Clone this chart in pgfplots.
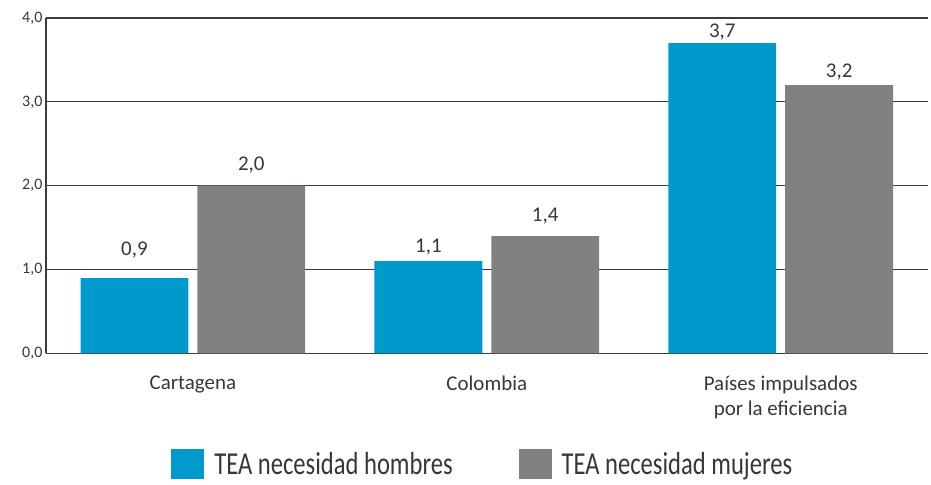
\documentclass[border=0pt]{standalone}
\usepackage{pgfplots}
\pgfplotsset{compat=1.18}
\usepackage{fontspec}
\setmainfont{Carlito}
\definecolor{cblue}{RGB}{0,153,204}
\definecolor{cgray}{RGB}{128,129,131}
\definecolor{ctext}{RGB}{55,55,55}
\definecolor{cline}{RGB}{60,60,60}
\begin{document}
\begin{tikzpicture}
\begin{axis}[
  scale only axis,
  width=883pt, height=336pt,
  anchor=south west, at={(0,0)},
  xmin=-0.5, xmax=2.5,
  ymin=0, ymax=4,
  axis x line*=bottom, axis y line*=left,
  axis line style={cline, line width=1.2pt, -},
  ymajorgrids,
  grid style={cline, line width=1.2pt},
  ytick={0,1,2,3,4},
  ytick style={draw=none},
  yticklabel style={font=\fontsize{16}{16}\selectfont, text=ctext, /pgf/number format/.cd, fixed, fixed zerofill, precision=1, use comma},
  /pgf/number format/assume math mode=true,
  extra y ticks={0},
  extra y tick labels={},
  extra y tick style={tick align=outside, major tick length=12pt, tick style={draw=cline, line width=1.2pt}, grid=none},
  xtick={0,1,2},
  xticklabels={Cartagena, Colombia, {Países impulsados\\por la eficiencia}},
  xtick style={draw=none},
  xticklabel style={font=\fontsize{21}{25}\selectfont, text=ctext, align=center, yshift=-15pt},
  extra x ticks={0.5,1.5,2.5},
  extra x tick labels={},
  extra x tick style={tick align=inside, major tick length=8pt, tick style={draw=cline, line width=1.2pt}},
  ybar,
  bar width=108pt,
  nodes near coords,
  visualization depends on={\thisrow{s} \as \myshift},
  every node near coord/.append style={font=\fontsize{21}{21}\selectfont, text=ctext, yshift=\myshift pt, /pgf/number format/.cd, fixed, fixed zerofill, precision=1, use comma},
  legend style={at={(0.5,-0.33)}, anchor=center, draw=none, legend columns=2,
    nodes={inner xsep=10pt, inner ysep=0pt, text depth=0pt},
    /tikz/every even column/.append style={column sep=56pt}, font=\fontsize{32}{32}\selectfont, text=ctext},
  legend image code/.code={\fill[#1] (0pt,-16pt) rectangle (33pt,14pt);},
]
\addplot[fill=cblue, draw=none, bar shift=-58.5pt] table {
x y s
0 0.9 16
1 1.1 3
2 3.7 -1
};
\addlegendentry{\scalebox{0.77}[1]{TEA necesidad hombres}}
\addplot[fill=cgray, draw=none, bar shift=58.5pt] table {
x y s
0 2.0 9
1 1.4 8
2 3.2 1
};
\addlegendentry{\scalebox{0.77}[1]{TEA necesidad mujeres}}
\end{axis}
\path[use as bounding box] (-46pt,-131pt) rectangle (885pt,354pt);
\end{tikzpicture}
\end{document}
